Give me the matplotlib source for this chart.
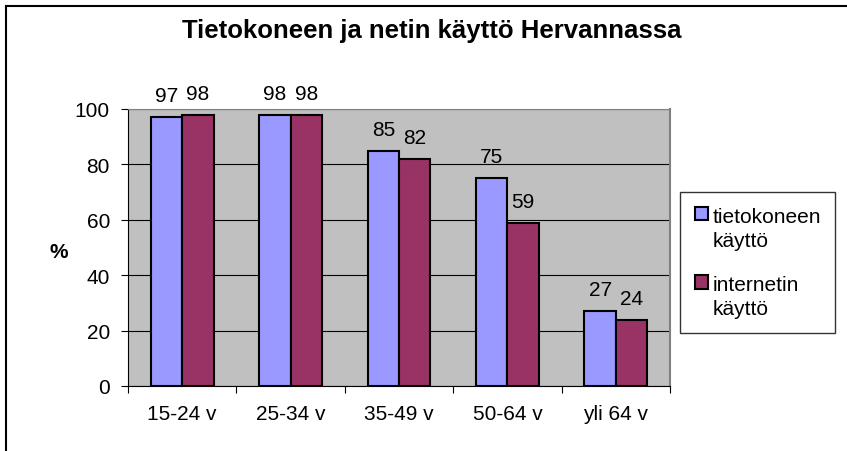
import numpy as np
import matplotlib.pyplot as plt
from matplotlib.lines import Line2D

plt.rcParams['font.family'] = ['Liberation Sans', 'DejaVu Sans']

categories = ['15-24 v', '25-34 v', '35-49 v', '50-64 v', 'yli 64 v']
tietokone = [97, 98, 85, 75, 27]
internet = [98, 98, 82, 59, 24]
series_names = ['tietokoneen\nkäyttö', 'internetin\nkäyttö']

W, H = 847, 452
fs = 15
fig = plt.figure(figsize=(W / 100, H / 100), dpi=100)

# chart area border (only top and left are inside the picture)
fig.add_artist(Line2D([6 / W, 1], [1 - 7 / H, 1 - 7 / H], transform=fig.transFigure,
                      color='black', linewidth=1.5))
fig.add_artist(Line2D([6 / W, 6 / W], [0, 1 - 7 / H], transform=fig.transFigure,
                      color='black', linewidth=1.5))

ax = fig.add_axes([128 / W, 1 - 387 / H, 542 / W, 277 / H])
ax.set_facecolor('#C0C0C0')

x = np.arange(len(categories))
w = 0.29
b1 = ax.bar(x - w / 2, tietokone, w, color='#9999FF', edgecolor='black', linewidth=1.5,
            label=series_names[0], zorder=3)
b2 = ax.bar(x + w / 2, internet, w, color='#993366', edgecolor='black', linewidth=1.5,
            label=series_names[1], zorder=3)
for bars, vals in ((b1, tietokone), (b2, internet)):
    for r, v in zip(bars, vals):
        ax.annotate(str(v), (r.get_x() + r.get_width() / 2, v), xytext=(0, 16),
                    textcoords='offset pixels', ha='center', va='baseline', fontsize=fs,
                    annotation_clip=False)

ax.set_xlim(-0.5, len(categories) - 0.5)
ax.set_ylim(0, 100)
ax.set_yticks(range(0, 101, 20))
ax.yaxis.grid(True, color='black', linewidth=0.8, zorder=1)
ax.set_xticks(np.arange(len(categories) + 1) - 0.5)
ax.set_xticklabels([''] * (len(categories) + 1))
ax.set_xticks(x, minor=True)
ax.set_xticklabels(categories, minor=True, fontsize=fs)
ax.tick_params(axis='x', which='minor', length=0, pad=13)
ax.tick_params(axis='x', which='major', length=5, direction='out')
ax.tick_params(axis='y', length=5, direction='out', labelsize=fs, pad=8)
ax.spines['top'].set_color('#808080')
ax.spines['right'].set_color('#808080')
ax.spines['right'].set_linewidth(1.5)

fig.text(59 / W, 1 - 253 / H, '%', ha='center', va='center', fontsize=fs, fontweight='bold')

fig.text(432 / W, 1 - 31 / H, 'Tietokoneen ja netin käyttö Hervannassa', ha='center',
         va='center', fontsize=18.5, fontweight='bold')

leg = fig.legend(handles=[b1, b2], loc='upper left', bbox_to_anchor=(680 / W, 1 - 193 / H),
                 fontsize=fs, frameon=True, fancybox=False, edgecolor='black',
                 handlelength=0.65, handleheight=0.65, handletextpad=0.2, labelspacing=1.2,
                 borderpad=0.7, borderaxespad=0)
leg.get_frame().set_linewidth(1)
for t in leg.get_texts():
    t.set_linespacing(1.35)
# marker next to the first line of each label, like Excel
for col in leg._legend_handle_box.get_children():
    for row in col.get_children():
        row.align = 'top'

fig.savefig('out.png', dpi=100)
